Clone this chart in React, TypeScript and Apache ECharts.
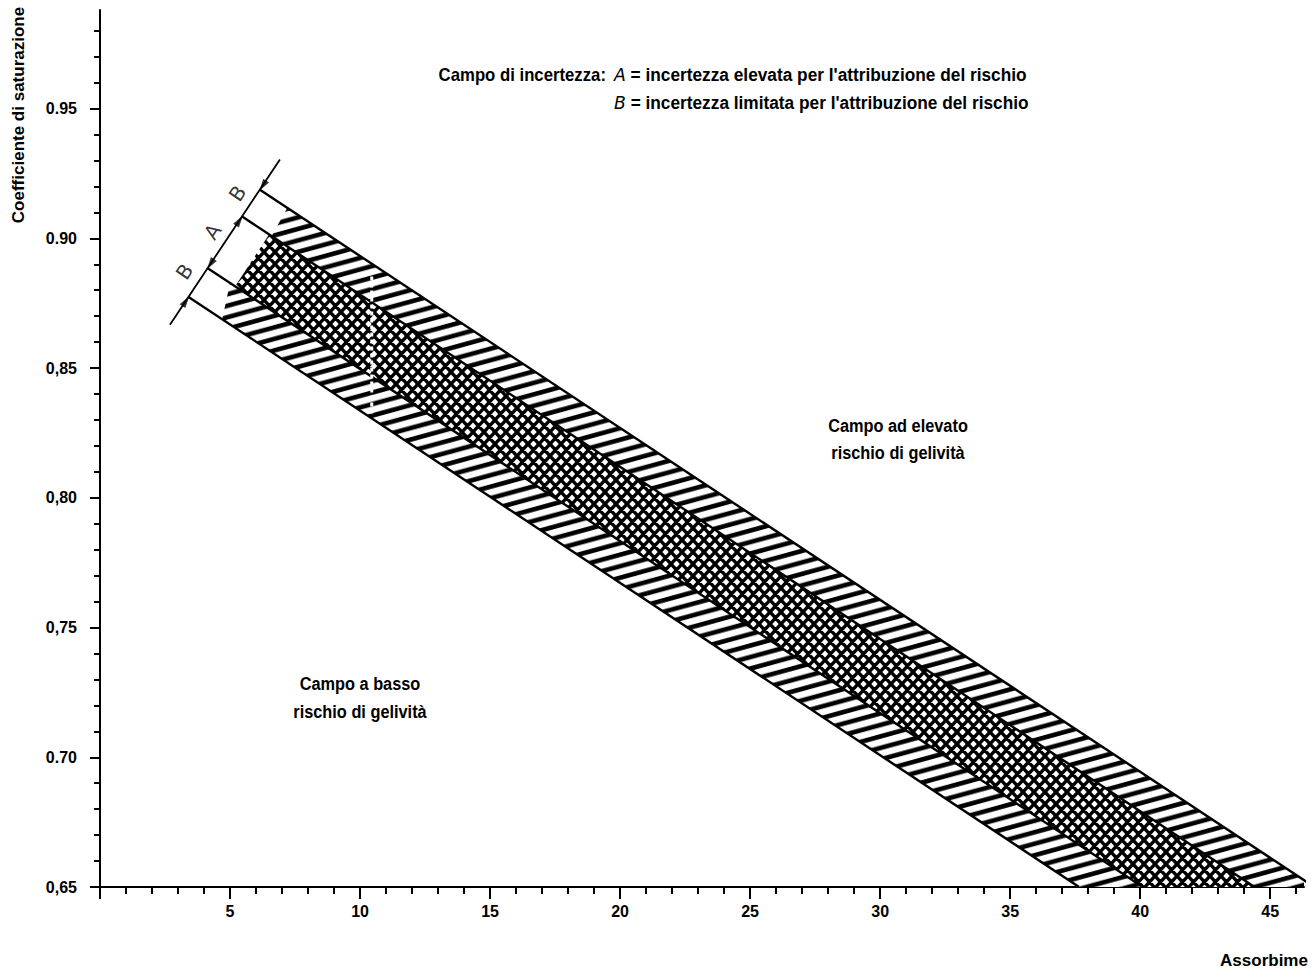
import React, { useEffect, useRef } from "react";
import * as echarts from "echarts";

// ---------- data ----------
const xMajorTicks = [0, 5, 10, 15, 20, 25, 30, 35, 40, 45];
const xLabelValues = [5, 10, 15, 20, 25, 30, 35, 40, 45];
const xMinorTicks = [1, 2, 3, 4, 6, 7, 8, 9, 11, 12, 13, 14, 16, 17, 18, 19, 21, 22, 23, 24, 26, 27, 28, 29, 31, 32, 33, 34, 36, 37, 38, 39, 41, 42, 43, 44, 46];
const yMajorTicks = [0.65, 0.7, 0.75, 0.8, 0.85, 0.9, 0.95];
const yTickLabels = ["0,65", "0.70", "0,75", "0,80", "0,85", "0.90", "0.95"];
const yMinorTicks = [0.66, 0.67, 0.68, 0.69, 0.71, 0.72, 0.73, 0.74, 0.76, 0.77, 0.78, 0.79, 0.81, 0.82, 0.83, 0.84, 0.86, 0.87, 0.88, 0.89, 0.91, 0.92, 0.93, 0.94, 0.96, 0.97, 0.98];

// boundary lines of the uncertainty field (start at the dimension line, end on the x axis)
const outerTopLine = [[6.15, 0.9187], [46.7, 0.65]];
const innerTopLine = [[5.465, 0.9084], [44.4, 0.65]];
const innerBottomLine = [[4.142, 0.8885], [40.1, 0.65]];
const outerBottomLine = [[3.404, 0.8774], [37.65, 0.65]];

// hatched / cross-hatched areas
const bandUpperB = [[7.2, 0.9117], [46.7, 0.65], [44.4, 0.65], [6.6, 0.9009]];
const bandA = [[6.5, 0.9015], [44.4, 0.65], [40.1, 0.65], [5.2, 0.8815]];
const bandLowerB = [[5.0, 0.8828], [40.1, 0.65], [37.65, 0.65], [4.7, 0.8688]];

// dimension line with arrows and letters
const measureLine = [[2.69, 0.8667], [6.92, 0.9304]];
const arrowsUpRight = [[5.36, 0.9068], [3.3, 0.8758]];
const arrowsDownLeft = [[6.26, 0.9203], [4.25, 0.8901]];
const bandLetters = [[3.25, 0.8872, "B"], [4.33, 0.9026, "A"], [5.29, 0.9173, "B"]];

// white scan stripe through the band
const scanStripe = [[10.45, 0.888], [10.45, 0.832]];

const FONT = "'Liberation Sans', Arial, sans-serif";

function svgUrl(svg: string) {
  return "data:image/svg+xml;charset=utf-8," + encodeURIComponent(svg);
}

function hatchPattern() {
  const W = 42, H = 11.5, sw = 4.6;
  let d = "";
  for (let n = -2; n <= 2; n++) {
    const y1 = 2 * H + n * H;
    const y2 = -H + n * H;
    d += `M${-W} ${y1}L${2 * W} ${y2}`;
  }
  const svg = `<svg xmlns="http://www.w3.org/2000/svg" width="${W}" height="${H}"><rect width="${W}" height="${H}" fill="#fff"/><path d="${d}" stroke="#000" stroke-width="${sw}" fill="none"/></svg>`;
  return { image: svgUrl(svg), repeat: "repeat", imageWidth: W, imageHeight: H };
}

function crossPattern() {
  const W = 11, H = 12, sw = 3.4;
  let d = "";
  for (let n = -2; n <= 2; n++) {
    d += `M${-W} ${-H + n * H}L${2 * W} ${2 * H + n * H}`;
    d += `M${-W} ${H + n * H}L${2 * W} ${-2 * H + n * H}`;
  }
  const svg = `<svg xmlns="http://www.w3.org/2000/svg" width="${W}" height="${H}"><rect width="${W}" height="${H}" fill="#fff"/><path d="${d}" stroke="#000" stroke-width="${sw}" fill="none"/></svg>`;
  return { image: svgUrl(svg), repeat: "repeat", imageWidth: W, imageHeight: H };
}

function bandSeries(name: string, pts: number[][], fill: any) {
  return {
    type: "custom",
    name,
    clip: true,
    silent: true,
    z: 2,
    data: [pts[0]],
    renderItem: (_params: any, api: any) => {
      const points = pts.map((p) => api.coord(p));
      return { type: "polygon", shape: { points }, style: { fill, stroke: null } };
    },
  };
}

function lineSeries(name: string, data: number[][], width = 2.4, color = "#000", type: any = "solid", z = 3) {
  return {
    type: "line",
    name,
    data,
    symbol: "none",
    clip: true,
    silent: true,
    z,
    lineStyle: { color, width, type },
    animation: false,
  };
}

function txt(text: string, x: number, y: number, size: number, align: string, scaleX = 1, extra: any = {}) {
  return {
    type: "text",
    x,
    y,
    scaleX,
    ...extra.el,
    style: {
      text,
      fill: "#000",
      font: `bold ${size}px ${FONT}`,
      textAlign: align,
      textVerticalAlign: "middle",
      align,
      verticalAlign: "middle",
      ...extra.style,
    },
  };
}

export default function App() {
  const ref = useRef<HTMLDivElement>(null);

  useEffect(() => {
    if (!ref.current) return;
    const chart = echarts.init(ref.current, null, { renderer: "svg" });
    const hatch = hatchPattern();
    const cross = crossPattern();

    const axisCommonX = { type: "value", min: 0, max: 46.3, position: "bottom", gridIndex: 0 };
    const axisCommonY = { type: "value", min: 0.65, max: 0.988, position: "left", gridIndex: 0 };
    const italicRich = { i: { fontStyle: "italic", fontFamily: "'DejaVu Sans', sans-serif", fontSize: 18, fontWeight: "normal", fill: "#000" } };

    const option: any = {
      animation: false,
      backgroundColor: "#fff",
      grid: { left: 100, right: 11, top: 10, bottom: 93, containLabel: false },
      xAxis: [
        {
          ...axisCommonX,
          axisLine: { show: true, onZero: false, lineStyle: { color: "#000", width: 2 } },
          axisTick: { show: true, inside: false, length: 12, customValues: xMajorTicks, lineStyle: { color: "#000", width: 2 } },
          axisLabel: {
            show: true,
            customValues: xLabelValues,
            margin: 16,
            color: "#000",
            fontFamily: FONT,
            fontSize: 16,
            fontWeight: "bold",
          },
          splitLine: { show: false },
        },
        {
          ...axisCommonX,
          axisLine: { show: false },
          axisTick: { show: true, inside: false, length: 7, customValues: xMinorTicks, lineStyle: { color: "#000", width: 2 } },
          axisLabel: { show: false },
          splitLine: { show: false },
        },
      ],
      yAxis: [
        {
          ...axisCommonY,
          axisLine: { show: true, onZero: false, lineStyle: { color: "#000", width: 2 } },
          axisTick: { show: true, inside: false, length: 10, customValues: yMajorTicks, lineStyle: { color: "#000", width: 2 } },
          axisLabel: {
            show: true,
            customValues: yMajorTicks,
            margin: 23,
            color: "#000",
            fontFamily: FONT,
            fontSize: 16,
            fontWeight: "bold",
            formatter: (v: number) => {
              const i = yMajorTicks.findIndex((t) => Math.abs(t - v) < 1e-6);
              return i >= 0 ? yTickLabels[i] : "";
            },
          },
          splitLine: { show: false },
        },
        {
          ...axisCommonY,
          axisLine: { show: false },
          axisTick: { show: true, inside: false, length: 6, customValues: yMinorTicks, lineStyle: { color: "#000", width: 2 } },
          axisLabel: { show: false },
          splitLine: { show: false },
        },
      ],
      series: [
        bandSeries("B sup", bandUpperB, hatch),
        bandSeries("A", bandA, cross),
        bandSeries("B inf", bandLowerB, hatch),
        lineSeries("limite sup", outerTopLine),
        lineSeries("limite A sup", innerTopLine),
        lineSeries("limite A inf", innerBottomLine),
        lineSeries("limite inf", outerBottomLine),
        lineSeries("striscia", scanStripe, 3, "#fff", [4, 3], 4),
        lineSeries("quota", measureLine, 1.8),
        {
          type: "scatter",
          name: "frecce su",
          data: arrowsUpRight,
          symbol: "triangle",
          symbolSize: [7, 12],
          symbolRotate: -33.7,
          itemStyle: { color: "#000" },
          silent: true,
          z: 5,
        },
        {
          type: "scatter",
          name: "frecce giu",
          data: arrowsDownLeft,
          symbol: "triangle",
          symbolSize: [7, 12],
          symbolRotate: 146.3,
          itemStyle: { color: "#000" },
          silent: true,
          z: 5,
        },
        {
          type: "scatter",
          name: "lettere",
          data: bandLetters,
          symbolSize: 0,
          silent: true,
          z: 5,
          label: {
            show: true,
            position: "inside",
            formatter: (p: any) => p.value[2],
            rotate: 56,
            color: "#000",
            fontFamily: "'DejaVu Sans', sans-serif",
            fontSize: 20,
            fontWeight: "normal",
          },
        },
      ],
      graphic: [
        txt("Coefficiente di saturazione", 18, 115, 17, "center", 1, { el: { rotation: Math.PI / 2 } }),
        txt("Assorbime", 1264, 960, 17, "center"),
        txt("Campo di incertezza:", 606, 75, 18, "right", 0.93),
        txt("{i|A} = incertezza elevata per l'attribuzione del rischio", 614, 75, 18, "left", 0.96, { style: { rich: italicRich } }),
        txt("{i|B} = incertezza limitata per l'attribuzione del rischio", 614, 103, 18, "left", 0.96, { style: { rich: italicRich } }),
        txt("Campo ad elevato\nrischio di gelività", 898, 439, 19, "center", 0.86, { style: { lineHeight: 27 } }),
        txt("Campo a basso\nrischio di gelività", 360, 698, 19, "center", 0.86, { style: { lineHeight: 28 } }),
      ],
    };

    chart.setOption(option);
    return () => chart.dispose();
  }, []);

  return (
    <div
      ref={ref}
      style={{ position: "fixed", left: 0, top: 0, width: 1315, height: 980, background: "#fff" }}
    />
  );
}
